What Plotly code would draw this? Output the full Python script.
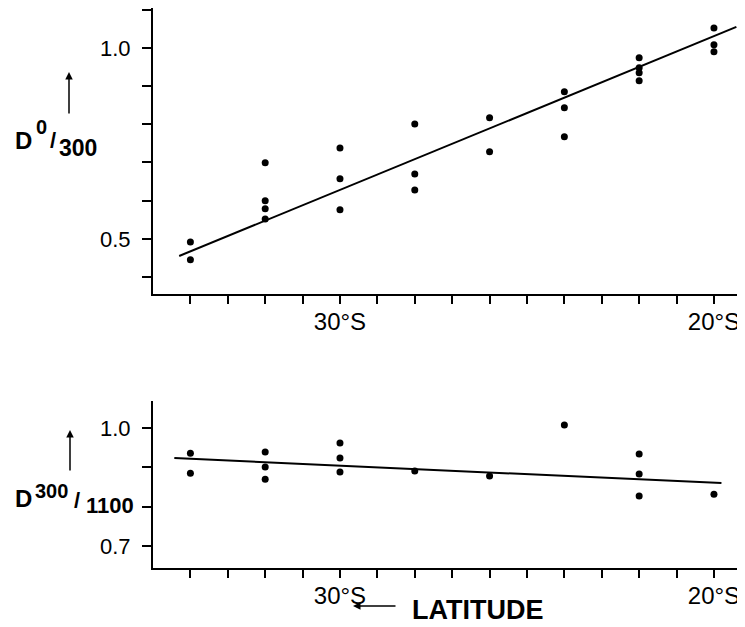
import plotly.graph_objects as go

# ---- data (latitude in degrees south) ----
top_lat = [34, 34, 32, 32, 32, 32, 30, 30, 30, 28, 28, 28, 26, 26, 24, 24, 24, 22, 22, 22, 22, 20, 20, 20]
top_val = [0.492, 0.445, 0.699, 0.600, 0.579, 0.552, 0.738, 0.657, 0.576, 0.801, 0.670, 0.628,
           0.817, 0.728, 0.885, 0.843, 0.767, 0.974, 0.948, 0.935, 0.914, 1.052, 1.008, 0.990]
top_fit_lat = [34.3, 19.4]
top_fit_val = [0.455, 1.055]

bot_lat = [34, 34, 32, 32, 32, 30, 30, 30, 28, 26, 24, 22, 22, 22, 20]
bot_val = [0.936, 0.885, 0.939, 0.901, 0.870, 0.962, 0.924, 0.888, 0.891, 0.878, 1.008,
           0.934, 0.883, 0.827, 0.832]
bot_fit_lat = [34.43, 19.8]
bot_fit_val = [0.924, 0.860]

x_ticks = list(range(20, 35))
x_ticktext = ["30°S" if v == 30 else ("20°S" if v == 20 else "") for v in x_ticks]
top_yticks = [0.4, 0.5, 0.6, 0.7, 0.8, 0.9, 1.0, 1.1]
top_yticktext = ["0.5" if abs(v - 0.5) < 1e-9 else ("1.0" if abs(v - 1.0) < 1e-9 else "") for v in top_yticks]
bot_yticks = [0.7, 0.8, 0.9, 1.0]
bot_yticktext = ["0.7", "", "", "1.0"]

# page has an 8px body margin; figure sits at (8, 8) in the window
OFF = 8
W, H = 745 - OFF, 627 - OFF
def px(x):
    return min(1.0, max(0.0, (x - OFF) / W))
def py(y):
    return min(1.0, max(0.0, 1 - (y - OFF) / H))

FONT = "Liberation Sans, Arial, sans-serif"

fig = go.Figure()
fig.add_trace(go.Scatter(x=top_lat, y=top_val, mode="markers",
                         marker=dict(color="black", size=7), xaxis="x", yaxis="y", showlegend=False))
fig.add_trace(go.Scatter(x=top_fit_lat, y=top_fit_val, mode="lines",
                         line=dict(color="black", width=2), xaxis="x", yaxis="y", showlegend=False))
fig.add_trace(go.Scatter(x=bot_lat, y=bot_val, mode="markers",
                         marker=dict(color="black", size=7), xaxis="x2", yaxis="y2", showlegend=False))
fig.add_trace(go.Scatter(x=bot_fit_lat, y=bot_fit_val, mode="lines",
                         line=dict(color="black", width=2), xaxis="x2", yaxis="y2", showlegend=False))

xcommon = dict(range=[35.0, 19.25], domain=[px(153), px(742)], tickvals=x_ticks, ticktext=x_ticktext,
               ticks="outside", ticklen=8, tickwidth=1.5, tickcolor="black",
               showline=True, linecolor="black", linewidth=2.2, showgrid=False, zeroline=False,
               tickfont=dict(family=FONT, size=24, color="black"), fixedrange=True)
ycommon = dict(ticks="outside", ticklen=9, tickwidth=1.5, tickcolor="black",
               showline=True, linecolor="black", linewidth=2.2, mirror=True, showgrid=False, zeroline=False,
               tickfont=dict(family=FONT, size=22, color="black"), ticklabelstandoff=7)

fig.update_layout(
    width=W, height=H,
    margin=dict(l=0, r=0, t=0, b=0),
    paper_bgcolor="white", plot_bgcolor="white",
    xaxis=dict(anchor="y", **xcommon),
    xaxis2=dict(anchor="y2", **xcommon),
    yaxis=dict(anchor="x", domain=[py(294), py(8)], range=[0.3555, 1.1045],
               tickvals=top_yticks, ticktext=top_yticktext, **ycommon),
    yaxis2=dict(anchor="x2", domain=[py(568), py(401)], range=[0.644, 1.069],
                tickvals=bot_yticks, ticktext=bot_yticktext, **ycommon),
)
try:
    fig.update_xaxes(ticklabelstandoff=-3)
except ValueError:
    pass

anns = []
def label(text, x, y, size):
    anns.append(dict(x=px(x), y=py(y), xref="paper", yref="paper", xanchor="center", yanchor="middle",
                     text="<b>" + text + "</b>", showarrow=False, borderpad=0,
                     font=dict(family=FONT, size=size, color="black")))

# D0/300
label("D", 23, 140.5, 24)
label("0", 41.5, 127, 20)
label("/", 52.5, 140, 22)
label("300", 78, 147.5, 23)
# D300/1100
label("D", 23.5, 498, 24)
label("300", 51.5, 491, 20)
label("/", 76.5, 501, 22)
label("1100", 110, 505, 22)
# LATITUDE
label("LATITUDE", 477.5, 609.5, 27)

def arrow(x_tip, y_tip, ax, ay):
    anns.append(dict(x=px(x_tip), y=py(y_tip), xref="paper", yref="paper", ax=ax, ay=ay, text="",
                     showarrow=True, arrowhead=2, arrowsize=1, arrowwidth=1.5, arrowcolor="black"))

arrow(69, 72, 0, 43)
arrow(70, 430, 0, 42)
arrow(353, 606, 44, 0)
fig.update_layout(annotations=anns)

fig.write_html("out.html")
